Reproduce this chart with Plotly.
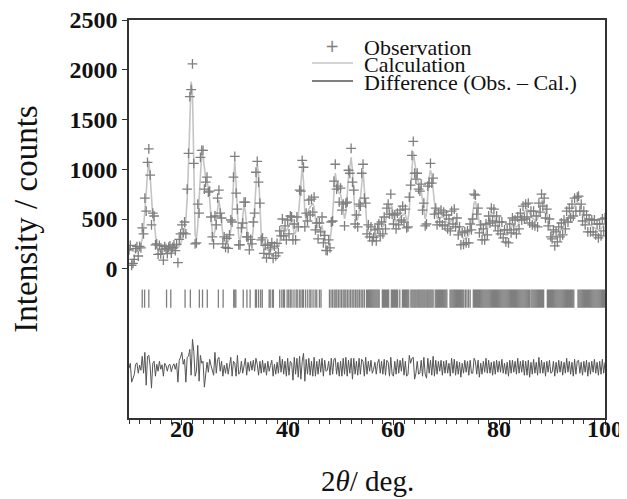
import numpy as np
import plotly.graph_objects as go

# 2theta grid of the step scan (0.25 deg steps from 10 to 100)
two_theta = np.round(np.arange(10.0, 100.0001, 0.25), 2)

# Calculated intensity (counts), 20 values per 5 deg
calculation = [
    200, 195, 185, 175, 170, 172, 178, 188, 205, 240, 300, 410, 560, 760, 960, 1085, 930, 650, 520, 470,
    330, 220, 185, 175, 170, 172, 176, 182, 188, 193, 197, 200, 203, 205, 205, 203, 205, 212, 225, 250,
    290, 330, 390, 500, 700, 1050, 1550, 1880, 1780, 900, 340, 300, 430, 700, 1000, 1150, 1130, 1000, 910, 870,
    820, 700, 500, 360, 330, 380, 500, 630, 690, 600, 450, 340, 300, 275, 265, 275, 310, 390, 560, 860,
    1090, 850, 480, 310, 290, 350, 520, 640, 580, 400, 270, 230, 235, 280, 400, 600, 880, 1050, 950, 600,
    350, 240, 205, 195, 190, 188, 188, 190, 192, 195, 198, 200, 205, 220, 270, 380, 420, 400, 370, 380,
    400, 430, 470, 480, 420, 350, 360, 430, 520, 680, 900, 1030, 880, 560, 480, 550, 600, 620, 640, 660,
    620, 480, 400, 370, 380, 420, 430, 350, 265, 225, 212, 230, 290, 380, 550, 800, 960, 870, 780, 760,
    750, 680, 560, 500, 560, 760, 920, 1020, 1120, 990, 700, 520, 480, 500, 560, 700, 880, 990, 800, 560,
    420, 380, 360, 350, 340, 335, 340, 350, 360, 370, 390, 410, 420, 440, 480, 540, 600, 640, 650, 620,
    540, 480, 470, 480, 500, 520, 530, 540, 550, 540, 500, 490, 600, 800, 1050, 1180, 1080, 960, 900, 870,
    840, 780, 680, 560, 500, 560, 740, 920, 990, 940, 800, 640, 540, 510, 500, 510, 520, 520, 510, 490,
    470, 460, 460, 470, 490, 510, 520, 500, 450, 410, 370, 340, 320, 305, 300, 310, 320, 340, 380, 450,
    560, 660, 680, 620, 540, 460, 400, 360, 340, 340, 360, 400, 460, 520, 560, 560, 540, 500, 460, 430,
    410, 400, 390, 370, 350, 340, 340, 350, 380, 420, 440, 440, 430, 420, 430, 460, 500, 540, 560, 580,
    590, 600, 590, 560, 530, 510, 500, 490, 480, 500, 560, 630, 680, 690, 660, 600, 540, 480, 430, 380,
    350, 330, 320, 320, 330, 350, 370, 400, 420, 440, 460, 490, 520, 550, 580, 600, 620, 630, 650, 660,
    660, 640, 600, 560, 520, 490, 470, 460, 450, 440, 430, 420, 410, 400, 400, 390, 390, 400, 420, 440, 460,
]

# Difference Obs. - Cal. (counts)
difference = [
    -10, 40, -150, -120, -75, 30, 45, -60, 20, -30, 110, -60, 150, -180, 110, 120, 10, -210, 40, 60,
    -90, 30, -40, 60, -20, 25, -90, 40, 15, -40, 20, 30, -45, 10, 35, -20, 40, -150, 70, 100,
    150, 30, 80, -150, 100, 110, 180, -80, 280, 160, -90, -40, 220, -140, 120, 40, 60, -200, -40, 50,
    -50, 80, 20, -40, -80, 150, -60, 80, 100, -40, 60, -90, 20, -60, 40, -70, 30, 100, -90, 60,
    40, -90, 120, -70, -50, 60, -60, 30, 90, -80, 50, -40, 60, -30, 70, -40, 90, 30, -80, 60,
    -60, 70, -50, 40, -80, 60, -40, 20, 70, -90, 30, -70, 50, -60, 110, -50, 80, -70, 60, -90,
    90, -80, 60, 40, -130, 100, -70, 90, -100, 110, -120, 60, 140, -140, 80, -70, 90, -80, 60, -90,
    100, -90, 60, -70, 80, -50, 90, -90, 70, -40, -30, 60, -80, 90, -70, 80, 90, -70, 50, -90,
    60, -90, 90, -70, 100, -90, 70, -60, 90, -120, 90, -70, 60, -80, 90, -70, 80, 60, -90, 100,
    -70, 60, -40, 70, -60, -20, 50, -70, 40, 80, -60, 60, -70, 80, -80, 70, 50, -90, 100, -70,
    -90, 60, -70, 80, -60, 70, -40, 90, -80, 60, -90, -70, 120, 40, 90, 100, -120, -60, 60, -70,
    -60, 70, -90, 100, -70, -110, 90, -60, 70, -80, 110, -90, 70, -70, 60, -40, 70, -80, 60, -60,
    70, -60, 40, -90, 90, -60, 80, -80, 60, -70, 50, -100, 40, -60, 70, -50, 60, -80, 70, -60,
    -60, 90, 60, -70, 70, -100, 40, -70, 60, -50, 90, -60, 70, -60, 50, -80, 60, -70, 70, -50,
    60, -50, 80, -60, 40, -70, 50, -90, 70, -60, 70, -50, 60, -70, 90, -60, 60, -50, 70, -80,
    60, -80, 70, -100, 50, -70, 80, -60, 50, -80, 100, -60, 70, -60, 50, -90, 60, -50, 70, -60,
    -50, 60, -90, 50, -60, 70, -50, 60, -80, 50, -60, 90, -50, 60, -70, 50, -90, 80, -70, 60,
    70, -60, 50, -80, 60, -50, 70, -90, 50, -70, 60, -50, 80, -60, 50, -80, 60, -70, 80, -60, 50,
]

observation = [c + d for c, d in zip(calculation, difference)]

# Bragg reflection positions (2theta, deg)
reflections = [
    12.5, 12.95, 13.75, 17.1, 17.9, 20.6, 21.6, 23.3, 23.9, 24.8, 26.9, 27.8,
    29.8, 30.0, 30.2, 31.6, 32.3, 32.9, 33.9, 34.1, 34.5, 34.9, 35.2,
    36.5, 36.7, 37.1, 37.3, 38.5, 38.9, 39.2, 39.4, 39.9, 40.2, 40.5, 40.8,
    41.2, 41.6, 41.8, 42.2, 42.5, 42.8, 43.0, 43.4, 43.8, 44.2, 44.4, 44.8,
    45.2, 45.5, 46.0, 46.3, 47.9, 48.2, 48.5, 48.8, 49.1, 49.3, 49.6, 49.9,
    50.2, 50.5, 50.8, 51.0, 51.3, 51.6, 51.9, 52.2, 52.5, 52.8, 53.1, 53.3,
    53.6, 53.9, 54.2, 54.5,
    54.9, 55.1, 55.3, 55.5, 55.7, 55.9, 56.1, 56.3, 56.5, 56.7, 56.9, 57.1, 57.3,
    57.9, 58.1, 58.3, 58.5, 58.7, 58.9, 59.1,
    59.6, 59.8, 60.0, 60.2, 60.4, 60.6, 60.8, 61.2,
    61.7, 61.9, 62.1, 62.3, 62.5, 62.7, 62.9,
    63.3, 63.5, 63.7, 63.9, 64.1, 64.3,
    64.6, 64.8, 65.0, 65.2, 65.4, 65.6, 65.8, 66.0,
    66.3, 66.5, 66.7, 66.9, 67.1, 67.3, 67.5,
    67.9, 68.1, 68.3, 68.5, 68.7, 68.9, 69.1, 69.3, 69.5, 69.7, 69.9, 70.1,
    70.7, 70.9, 71.1, 71.3, 71.5, 71.7, 71.9, 72.1, 72.3, 72.5, 72.7, 72.9, 73.1, 73.3,
    73.6, 73.9, 74.2, 74.5,
    75.1, 75.3, 75.5, 75.7, 75.9, 76.1, 76.3, 76.5, 76.7, 76.9, 77.1, 77.3, 77.5, 77.7,
    77.9, 78.1, 78.3, 78.5, 78.7, 78.9, 79.1, 79.3, 79.5, 79.7, 79.9, 80.1, 80.3, 80.5,
    80.7, 80.9, 81.1, 81.3, 81.5, 81.7, 81.9, 82.1, 82.3, 82.5, 82.7, 82.9, 83.1, 83.3,
    83.5, 83.7, 83.9, 84.1, 84.3, 84.5, 84.7, 84.9, 85.1, 85.3, 85.5, 85.7,
    86.0, 86.2, 86.4, 86.6, 86.8, 87.0, 87.2, 87.4, 87.6, 87.8, 88.0, 88.2, 88.4,
    89.1, 89.3, 89.5, 89.7, 89.9, 90.1, 90.3, 90.5, 90.7, 90.9, 91.1, 91.3, 91.5,
    91.7, 91.9, 92.1, 92.3, 92.5, 92.7, 92.9, 93.1, 93.3, 93.5, 93.7, 93.9, 94.1,
    94.9, 95.1, 95.3, 95.5, 95.7, 95.9, 96.1, 96.3, 96.5, 96.7, 96.9, 97.1, 97.3,
    97.5, 97.7, 97.9, 98.1, 98.3, 98.5, 98.7, 98.9, 99.1, 99.3, 99.5, 99.7, 99.9,
]

y_ticks = [0, 500, 1000, 1500, 2000, 2500]
x_ticks = [20, 40, 60, 80, 100]
x_tick_labels = ["20", "40", "60", "80", "100"]
reflection_level = -300
difference_offset = -990

legend_labels = ["Observation", "Calculation", "Difference (Obs. \u2013 Cal.)"]

OBS_COLOR = "#7f7f7f"
CALC_COLOR = "#c4c4c4"
DIFF_COLOR = "#555555"
AXIS_COLOR = "#333333"
TEXT_COLOR = "#111111"
FONT = "Liberation Serif"

fig = go.Figure()

fig.add_trace(go.Scatter(
    x=two_theta, y=calculation, mode="lines",
    line=dict(color=CALC_COLOR, width=1.6), showlegend=False,
))
fig.add_trace(go.Scatter(
    x=two_theta, y=observation, mode="markers",
    marker=dict(symbol="cross-thin", size=7, line=dict(color=OBS_COLOR, width=1.3)),
    showlegend=False,
))
fig.add_trace(go.Scatter(
    x=reflections, y=[reflection_level] * len(reflections), mode="markers",
    marker=dict(symbol="line-ns", size=13, line=dict(color=OBS_COLOR, width=1.3)),
    showlegend=False,
))
fig.add_trace(go.Scatter(
    x=two_theta, y=[d + difference_offset for d in difference], mode="lines",
    line=dict(color=DIFF_COLOR, width=1), showlegend=False,
))

# x tick labels placed close under the axis, as in the reference
for v, lab in zip(x_ticks, x_tick_labels):
    fig.add_annotation(x=v, y=0, xref="x", yref="paper", text=lab, showarrow=False,
                       xanchor="center", yanchor="top", yshift=4,
                       font=dict(family=FONT, size=24, weight="bold", color=TEXT_COLOR))

# Hand-built legend (compact line spacing as in the reference); positions are
# given in screen pixels of the plot area (left 129, top 20, 476 x 398)
def px_x(p):
    return (p - 129) / 476

def px_y(p):
    return (418 - p) / 398

fig.add_annotation(x=0.5, y=px_y(481), xref="paper", yref="paper",
                   text="2<i>\u03b8</i>/ deg.", showarrow=False,
                   xanchor="center", yanchor="middle",
                   font=dict(family=FONT, size=29, color=TEXT_COLOR))

rows_y = [47, 65, 83]
fig.add_annotation(x=px_x(332), y=px_y(rows_y[0] - 1), xref="paper", yref="paper",
                   text="+", showarrow=False, xanchor="center", yanchor="middle",
                   font=dict(family="DejaVu Sans", size=17, color=OBS_COLOR))
fig.add_shape(type="line", xref="paper", yref="paper",
              x0=px_x(312), x1=px_x(353), y0=px_y(rows_y[1] - 2), y1=px_y(rows_y[1] - 2),
              line=dict(color=CALC_COLOR, width=1.5))
fig.add_shape(type="line", xref="paper", yref="paper",
              x0=px_x(312), x1=px_x(353), y0=px_y(rows_y[2] - 2), y1=px_y(rows_y[2] - 2),
              line=dict(color=DIFF_COLOR, width=1.3))
for label, ry in zip(legend_labels, rows_y):
    fig.add_annotation(x=px_x(362), y=px_y(ry), xref="paper", yref="paper",
                       text=label, showarrow=False, xanchor="left", yanchor="middle",
                       font=dict(family=FONT, size=22, color=TEXT_COLOR))

# the page body adds an 8 px margin, so the figure is 8 px smaller each way
fig.update_layout(
    width=619, height=491,
    margin=dict(l=121, r=22, t=12, b=81, autoexpand=False),
    paper_bgcolor="white", plot_bgcolor="white",
    font=dict(family=FONT, color=TEXT_COLOR),
    showlegend=False,
)
fig.update_xaxes(
    range=[10, 100], tickvals=x_ticks, showticklabels=False, automargin=False,
    ticks="outside", ticklen=5, tickwidth=1.3, tickcolor=AXIS_COLOR,
    minor=dict(dtick=2, tick0=10, ticks="outside", ticklen=4, tickwidth=1.1, tickcolor=AXIS_COLOR),
    showline=True, linecolor=AXIS_COLOR, linewidth=1.6, mirror=True,
    showgrid=False, zeroline=False,
)
fig.update_yaxes(
    range=[-1500, 2500], tickvals=y_ticks, automargin=False,
    ticks="outside", ticklen=5, tickwidth=1.3, tickcolor=AXIS_COLOR,
    showline=True, linecolor=AXIS_COLOR, linewidth=1.6, mirror=True,
    showgrid=False, zeroline=False, ticklabeloverflow="allow",
    tickfont=dict(family=FONT, size=24, weight="bold", color=TEXT_COLOR),
    title=dict(text="Intensity / counts", font=dict(family=FONT, size=33, color=TEXT_COLOR), standoff=22),
)

fig.write_html("out.html")
